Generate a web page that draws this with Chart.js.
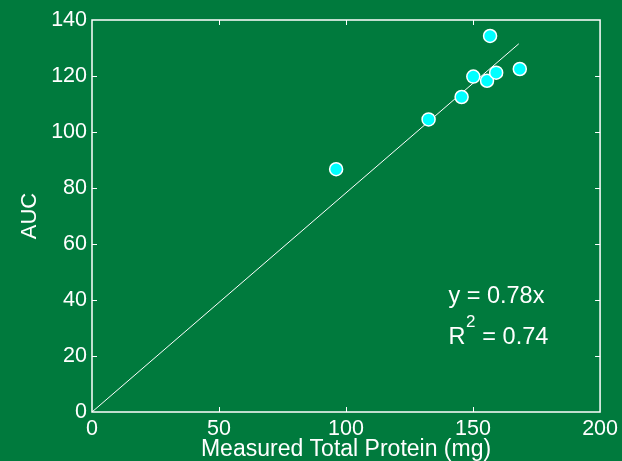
<!DOCTYPE html>
<html>
<head>
<meta charset="utf-8">
<script src="https://cdn.jsdelivr.net/npm/chart.js@4.4.1/dist/chart.umd.min.js"></script>
<style>
  html, body { margin: 0; padding: 0; background: #007A3D; }
  canvas { display: block; }
</style>
</head>
<body>
<canvas id="aucChart" width="622" height="461"></canvas>
<script>
// measured points
var proteinMg = [96.1, 132.5, 145.5, 150.1, 155.5, 159.1, 156.7, 168.4];
var aucValues = [86.7, 104.5, 112.5, 119.8, 118.3, 121.2, 134.3, 122.5];

// fitted line y = 0.78x, drawn between its two end points
var fitX = [0, 168];
var fitY = [0, 131.5];

var xTicks = [0, 50, 100, 150, 200];
var yTicks = [0, 20, 40, 60, 80, 100, 120, 140];

var fitLabel = 'y = 0.78x';
var r2Label = ' = 0.74';

var green = '#007A3D';
var white = '#FFFFFF';
var fontName = '"Liberation Sans", Arial, sans-serif';

function toPoints(xs, ys) {
	var pts = [];
	for (var i = 0; i < xs.length; i++) {
		pts.push({x: xs[i], y: ys[i]});
	}
	return pts;
}

// green background, boxed frame with inward ticks, equation text
var framePlugin = {
	id: 'frame',
	beforeDraw: function(chart) {
		var ctx = chart.ctx;
		ctx.save();
		ctx.fillStyle = green;
		ctx.fillRect(0, 0, chart.width, chart.height);
		ctx.restore();
	},
	beforeDatasetsDraw: function(chart) {
		var ctx = chart.ctx;
		var xs = chart.scales.x, ys = chart.scales.y;
		var l = xs.getPixelForValue(0), r = xs.getPixelForValue(200);
		var t = ys.getPixelForValue(140), b = ys.getPixelForValue(0);
		var len = 5;
		ctx.save();
		ctx.strokeStyle = white;
		ctx.lineWidth = 1;
		ctx.beginPath();
		xTicks.slice(1, -1).forEach(function(v) {
			var px = Math.round(xs.getPixelForValue(v)) + 0.5;
			ctx.moveTo(px, b); ctx.lineTo(px, b - len);
			ctx.moveTo(px, t); ctx.lineTo(px, t + len);
		});
		yTicks.slice(1, -1).forEach(function(v) {
			var py = Math.round(ys.getPixelForValue(v)) + 0.5;
			ctx.moveTo(l, py); ctx.lineTo(l + len, py);
			ctx.moveTo(r, py); ctx.lineTo(r - len, py);
		});
		ctx.stroke();
		ctx.lineWidth = 1.5;
		ctx.strokeRect(l, t, r - l, b - t);
		ctx.restore();
	},
	afterDatasetsDraw: function(chart) {
		var ctx = chart.ctx;
		var xs = chart.scales.x, ys = chart.scales.y;
		var tx = xs.getPixelForValue(140.3);
		ctx.save();
		ctx.fillStyle = white;
		ctx.textBaseline = 'alphabetic';
		ctx.font = '23.5px ' + fontName;
		ctx.fillText(fitLabel, tx, ys.getPixelForValue(38.8));
		var by = ys.getPixelForValue(24.2);
		ctx.fillText('R', tx, by);
		var rw = ctx.measureText('R').width;
		ctx.font = '17px ' + fontName;
		ctx.fillText('2', tx + rw + 0.5, by - 17);
		var sw = ctx.measureText('2').width;
		ctx.font = '23.5px ' + fontName;
		ctx.fillText(r2Label, tx + rw + sw + 1, by);
		ctx.restore();
	}
};

var displayData = {
	type: 'scatter',
	data: {
		datasets: [{
			label: 'fit',
			data: toPoints(fitX, fitY),
			showLine: true,
			borderColor: white,
			borderWidth: 1,
			pointRadius: 0,
			order: 2
		}, {
			label: 'AUC',
			data: toPoints(proteinMg, aucValues),
			backgroundColor: '#00FFFF',
			borderColor: white,
			borderWidth: 1.5,
			pointRadius: 6.5,
			order: 1
		}]
	},
	options: {
		responsive: false,
		animation: false,
		layout: {padding: {left: 0, top: 20, right: 21, bottom: 0}},
		plugins: {legend: {display: false}, tooltip: {enabled: false}},
		scales: {
			x: {
				type: 'linear',
				min: 0, max: 200,
				afterBuildTicks: function(s) { s.ticks = xTicks.map(function(v) { return {value: v}; }); },
				afterFit: function(s) { s.height = 49; },
				grid: {display: false, drawTicks: false},
				border: {display: false},
				ticks: {color: white, padding: 4, font: {family: fontName, size: 21.5}, maxRotation: 0},
				title: {
					display: true,
					text: 'Measured Total Protein (mg)',
					color: white,
					font: {family: fontName, size: 23, lineHeight: 1},
					padding: {top: 0, bottom: 0}
				}
			},
			y: {
				type: 'linear',
				min: 0, max: 140,
				afterBuildTicks: function(s) { s.ticks = yTicks.map(function(v) { return {value: v}; }); },
				afterFit: function(s) { s.width = 92; },
				grid: {display: false, drawTicks: false},
				border: {display: false},
				ticks: {color: white, padding: 5, font: {family: fontName, size: 21.5}},
				title: {
					display: true,
					text: 'AUC',
					color: white,
					font: {family: fontName, size: 22, lineHeight: 1},
					padding: {top: 18.5, bottom: 0}
				}
			}
		}
	},
	plugins: [framePlugin]
};

new Chart(document.getElementById('aucChart'), displayData);
</script>
</body>
</html>
